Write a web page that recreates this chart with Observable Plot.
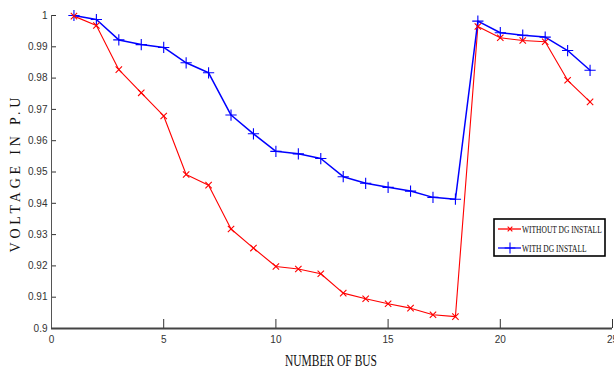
<!DOCTYPE html>
<html><head><meta charset="utf-8">
<script src="https://cdn.jsdelivr.net/npm/d3@7"></script>
<script src="https://cdn.jsdelivr.net/npm/@observablehq/plot@0.6"></script>
<style>
body{margin:0;background:#fff;}
#wrap{position:relative;width:614px;height:369px;overflow:hidden;}
#legend{position:absolute;left:493px;top:218px;}
</style></head><body><div id="wrap"></div>
<script>
const buses = [1,2,3,4,5,6,7,8,9,10,11,12,13,14,15,16,17,18,19,20,21,22,23,24];
const withoutDG = [0.9998,0.9968,0.9827,0.9753,0.9679,0.9492,0.9458,0.9318,0.9257,0.9198,0.9190,0.9175,0.9113,0.9095,0.9079,0.9065,0.9044,0.9038,0.9965,0.9929,0.9920,0.9916,0.9793,0.9724];
const withDG = [1.0000,0.9987,0.9922,0.9907,0.9898,0.9849,0.9817,0.9682,0.9622,0.9566,0.9558,0.9543,0.9485,0.9464,0.9451,0.9439,0.9419,0.9413,0.9982,0.9945,0.9937,0.9931,0.9888,0.9825];
const xTicks = [0,5,10,15,20,25];
const yTicks = [0.9,0.91,0.92,0.93,0.94,0.95,0.96,0.97,0.98,0.99,1];
const seriesNames = ["WITHOUT DG INSTALL","WITH DG INSTALL"];
const seriesColors = ["#ff0000","#0000ff"];
const seriesSymbols = ["times","plus"];
const xLabel = "NUMBER OF BUS";
const yLabel = "VOLTAGE IN P.U";

const rows = buses.flatMap((b,i)=>[
  {bus:b, v:withoutDG[i], s:seriesNames[0]},
  {bus:b, v:withDG[i], s:seriesNames[1]}
]);
const xDom = [xTicks[0], xTicks[xTicks.length-1]];
const yDom = [yTicks[0], yTicks[yTicks.length-1]];

const chart = Plot.plot({
  width:614, height:369,
  marginLeft:51, marginRight:2, marginTop:15, marginBottom:41,
  style:{fontFamily:"'Liberation Sans Narrow','Liberation Sans',Arial,sans-serif", fontSize:"10px", color:"#333", background:"#fff", overflow:"visible"},
  x:{domain:xDom},
  y:{domain:yDom},
  color:{domain:seriesNames, range:seriesColors},
  symbol:{domain:seriesNames, range:seriesSymbols},
  marks:[
    Plot.axisX({ticks:xTicks, tickSize:-9, tickPadding:16, label:null, stroke:"#333", tickFormat:d3.format("d")}),
    Plot.axisY({ticks:yTicks, tickSize:-5, tickPadding:9, label:null, stroke:"#333", tickFormat:d3.format(".2~f")}),
    Plot.ruleX([xDom[0]], {stroke:"#555", strokeWidth:1}),
    Plot.ruleY([yDom[0]], {stroke:"#444", strokeWidth:2}),
    Plot.line(rows, {x:"bus", y:"v", stroke:"s", z:"s", strokeWidth:d=>d.s===seriesNames[1]?1.5:1.1}),
    Plot.dot(rows, {x:"bus", y:"v", stroke:"s", symbol:"s", r:d=>d.s===seriesNames[1]?2.6:1.7, strokeWidth:1.1}),
    Plot.text([yLabel], {frameAnchor:"left", rotate:-90, dx:-36, dy:3, fontSize:14, fontFamily:"'Liberation Serif','DejaVu Serif',serif", fill:"#111", textAnchor:"middle"}),
    Plot.text([xLabel], {frameAnchor:"bottom", dy:37, fontSize:17, fontFamily:"'Liberation Serif','DejaVu Serif',serif", fill:"#111", lineAnchor:"bottom", dx:-1})
  ]
});
document.getElementById("wrap").appendChild(chart);

// condense axis labels like the original
d3.select(chart).selectAll("text").each(function(){
  const t = this.textContent;
  if (t === yLabel) { this.setAttribute("textLength", 155); this.setAttribute("lengthAdjust","spacing"); }
  if (t === xLabel) { this.setAttribute("textLength", 92); this.setAttribute("lengthAdjust","spacingAndGlyphs"); }
});

// legend inside the plot area
const lg = d3.select("#wrap").append("svg").attr("id","legend").attr("width",114).attr("height",40);
lg.append("rect").attr("x",1).attr("y",1).attr("width",111).attr("height",37).attr("fill","#fff").attr("stroke","#000").attr("stroke-width",1.6);
seriesNames.forEach((name,i)=>{
  const y = 11 + i*19;
  const g = lg.append("g");
  g.append("line").attr("x1",5).attr("x2",28).attr("y1",y).attr("y2",y).attr("stroke",seriesColors[i]).attr("stroke-width",1.3);
  const sym = d3.symbol(seriesSymbols[i]==="times"? d3.symbolTimes : d3.symbolPlus, i===0?16:40)();
  g.append("path").attr("d", sym).attr("transform",`translate(17,${y})`).attr("fill","none").attr("stroke",seriesColors[i]).attr("stroke-width",1.1);
  g.append("text").attr("transform",`translate(29,${y+4}) scale(0.68,1)`).attr("font-family","'Liberation Serif','DejaVu Serif',serif").attr("font-size",11).attr("fill","#111").text(name);
});
</script>
</body></html>
